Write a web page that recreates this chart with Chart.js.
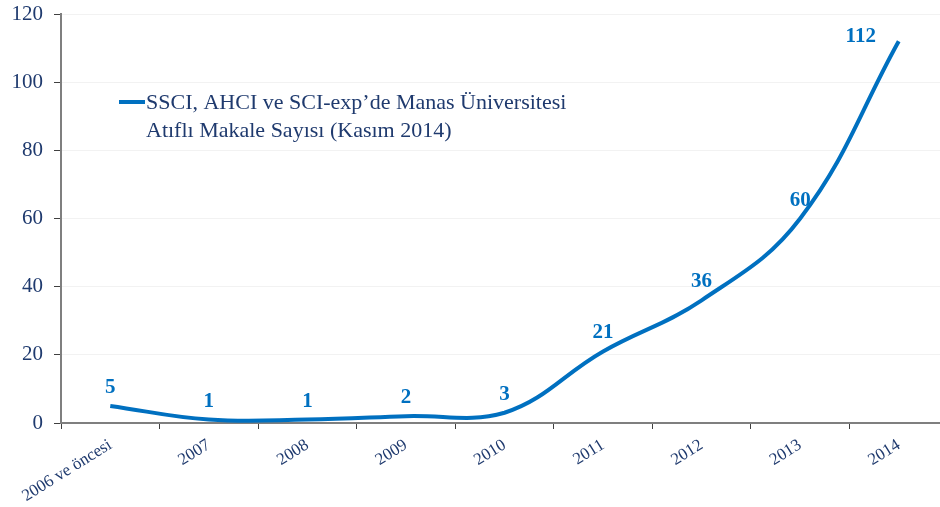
<!DOCTYPE html>
<html>
<head>
<meta charset="utf-8">
<script src="https://cdn.jsdelivr.net/npm/chart.js@4/dist/chart.umd.min.js"></script>
<style>
  html, body { margin: 0; padding: 0; background: #fff; overflow: hidden; }
  #wrap { width: 948px; height: 507px; }
</style>
</head>
<body>
<div id="wrap"><canvas id="grafik"></canvas></div>
<script>
// veriler
const yillar = ['2006 ve öncesi', '2007', '2008', '2009', '2010', '2011', '2012', '2013', '2014'];
const makaleSayisi = [5, 1, 1, 2, 3, 21, 36, 60, 112];
const seriAdi = ['SSCI, AHCI ve SCI-exp\u2019de Manas Üniversitesi', 'Atıflı Makale Sayısı (Kasım 2014)'];
const yTikler = [0, 20, 40, 60, 80, 100, 120];

const mavi = '#0070C0';
const lacivert = '#1F3A6E';
const yazi = '"Liberation Serif", "Times New Roman", serif';

// nokta ustu degerler
const degerEtiketleri = {
  id: 'degerEtiketleri',
  afterDatasetsDraw(chart) {
    const ctx = chart.ctx;
    const meta = chart.getDatasetMeta(0);
    ctx.save();
    ctx.font = 'bold 21px ' + yazi;
    ctx.fillStyle = mavi;
    ctx.textAlign = 'center';
    ctx.textBaseline = 'alphabetic';
    meta.data.forEach((p, i) => {
      let x = p.x, y = p.y - 13;
      // son deger cizginin soluna
      if (i === meta.data.length - 1) { x -= 38; y += 14; }
      ctx.fillText(String(makaleSayisi[i]), x, y);
    });
    ctx.restore();
  }
};

// iki satirli lejant
const lejant = {
  id: 'lejant',
  afterDraw(chart) {
    const ctx = chart.ctx;
    ctx.save();
    ctx.strokeStyle = mavi;
    ctx.lineWidth = 4;
    ctx.beginPath();
    ctx.moveTo(119, 102);
    ctx.lineTo(145, 102);
    ctx.stroke();
    ctx.font = '22px ' + yazi;
    ctx.fillStyle = lacivert;
    ctx.textBaseline = 'middle';
    ctx.fillText(seriAdi[0], 146, 103);
    ctx.fillText(seriAdi[1], 146, 131);
    ctx.restore();
  }
};

new Chart(document.getElementById('grafik'), {
  type: 'line',
  data: {
    labels: yillar,
    datasets: [{
      label: seriAdi.join(' '),
      data: makaleSayisi,
      borderColor: mavi,
      borderWidth: 4,
      pointRadius: 0,
      fill: false,
      tension: 0.4
    }]
  },
  options: {
    responsive: true,
    maintainAspectRatio: false,
    animation: false,
    layout: { padding: { top: 14, right: 0, left: 0, bottom: 0 } },
    plugins: {
      legend: { display: false },
      tooltip: { enabled: false }
    },
    scales: {
      x: {
        offset: true,
        grid: { offset: true, drawOnChartArea: false, tickLength: 6, tickColor: '#404040' },
        border: { color: '#7f7f7f', width: 2 },
        ticks: {
          minRotation: 32,
          maxRotation: 32,
          color: lacivert,
          font: { family: yazi, size: 17 },
          padding: 6
        },
        afterFit(scale) { scale.height = 84; }
      },
      y: {
        min: 0,
        max: 120,
        afterBuildTicks(scale) { scale.ticks = yTikler.map(v => ({ value: v })); },
        grid: { color: '#f2f2f2', tickLength: 7, tickColor: '#404040' },
        border: { color: '#7f7f7f', width: 2 },
        ticks: {
          color: lacivert,
          font: { family: yazi, size: 21 },
          padding: 11
        },
        afterFit(scale) {
          scale.width = 61;
          scale.paddingTop = 0;
          scale.paddingBottom = 0;
        }
      }
    }
  },
  plugins: [degerEtiketleri, lejant]
});
</script>
</body>
</html>
